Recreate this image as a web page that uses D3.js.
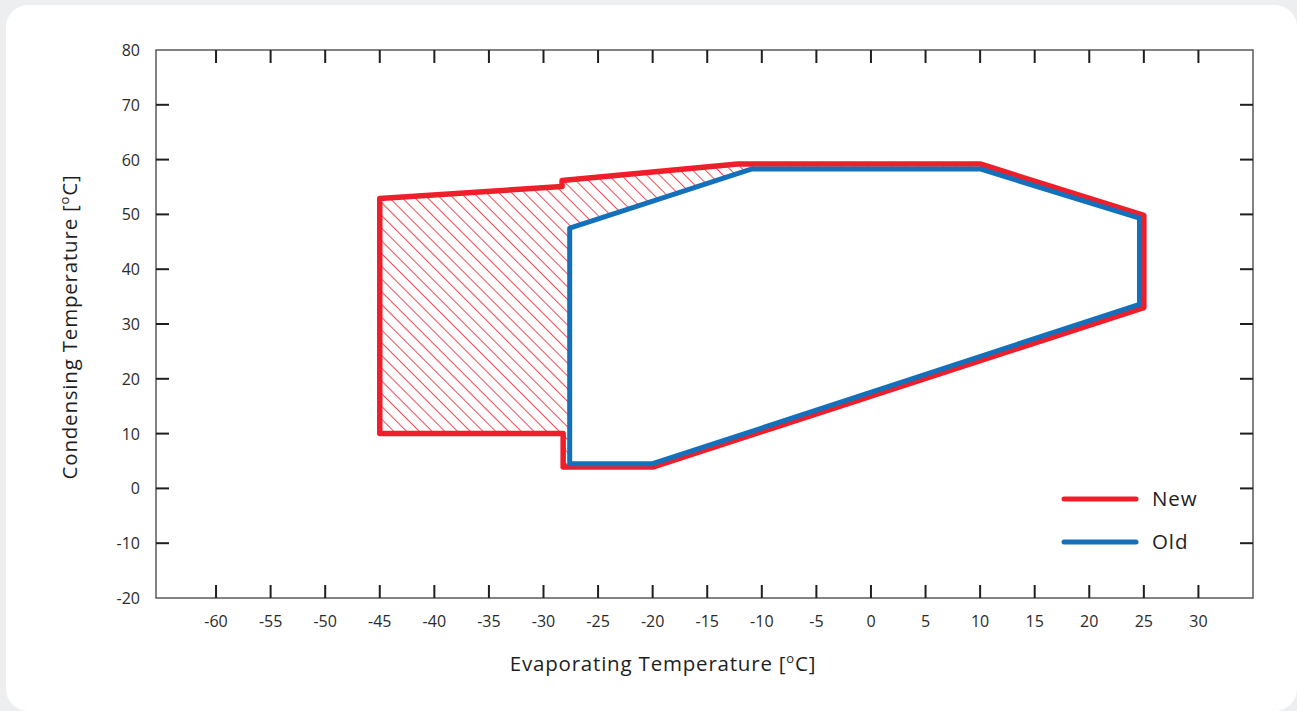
<!DOCTYPE html>
<html>
<head>
  <meta charset="utf-8">
  <title>Operating Envelope</title>
  <script src="https://d3js.org/d3.v7.min.js"></script>
  <style>
    body { margin: 0; background: #eceeef; }
    svg { display: block; }
    .tick-label { font-family: "Open Sans", "DejaVu Sans", sans-serif; font-size: 16px; fill: #2b2b2b; }
    .axis-title { font-family: "Open Sans", "DejaVu Sans", sans-serif; font-size: 20.5px; letter-spacing: 0.8px; fill: #1e1e1e; }
    .legend-label { font-family: "Open Sans", "DejaVu Sans", sans-serif; font-size: 20.5px; letter-spacing: 0.9px; fill: #1e1e1e; }
  </style>
</head>
<body>
  <div id="chart"></div>
  <script>
    // Ticks
    var xTicks = [-60, -55, -50, -45, -40, -35, -30, -25, -20, -15, -10, -5, 0, 5, 10, 15, 20, 25, 30];
    var yTicks = [-20, -10, 0, 10, 20, 30, 40, 50, 60, 70, 80];

    // Envelopes (evaporating, condensing)
    var newEvap = [-45, -45, -28.3, -28.3, -12.2, 10, 25, 25, -20, -28.2, -28.2];
    var newCond = [10, 52.9, 55.1, 56.2, 59.2, 59.2, 49.8, 33, 3.9, 3.9, 10];

    var oldEvap = [-27.6, -10.9, 10, 24.6, 24.6, -20, -27.6];
    var oldCond = [47.5, 58.3, 58.3, 49.3, 33.6, 4.5, 4.5];

    var seriesNames = ["New", "Old"];
    var seriesColors = ["#ee1f2b", "#1470bb"];

    var W = 1297, H = 711;
    var margin = { left: 156, top: 50, right: 44, bottom: 113 };

    var svg = d3.select("#chart").append("svg")
      .attr("width", W)
      .attr("height", H);

    // white card
    svg.append("rect")
      .attr("x", 6).attr("y", 5)
      .attr("width", W - 6).attr("height", H - 5)
      .attr("rx", 22)
      .attr("fill", "#ffffff");

    var x = d3.scaleLinear().domain([-65.5, 35]).range([margin.left, W - margin.right]);
    var y = d3.scaleLinear().domain([-20, 80]).range([H - margin.bottom, margin.top]);

    var defs = svg.append("defs");
    var pattern = defs.append("pattern")
      .attr("id", "hatch")
      .attr("patternUnits", "userSpaceOnUse")
      .attr("width", 9)
      .attr("height", 9)
      .attr("patternTransform", "rotate(-45)");
    pattern.append("line")
      .attr("x1", 0).attr("y1", 0)
      .attr("x2", 0).attr("y2", 9)
      .attr("stroke", seriesColors[0])
      .attr("stroke-width", 1.6);

    var line = d3.line()
      .x(function (d) { return x(d[0]); })
      .y(function (d) { return y(d[1]); })
      .curve(d3.curveLinearClosed);

    var newPts = newEvap.map(function (v, i) { return [v, newCond[i]]; });
    var oldPts = oldEvap.map(function (v, i) { return [v, oldCond[i]]; });

    // hatched area = new minus old
    svg.append("path")
      .attr("d", line(newPts))
      .attr("fill", "url(#hatch)");
    svg.append("path")
      .attr("d", line(oldPts))
      .attr("fill", "#ffffff");

    // frame
    var x0 = x.range()[0], x1 = x.range()[1], y0 = y.range()[0], y1 = y.range()[1];
    svg.append("rect")
      .attr("x", x0).attr("y", y1)
      .attr("width", x1 - x0).attr("height", y0 - y1)
      .attr("fill", "none")
      .attr("stroke", "#5a5a5a")
      .attr("stroke-width", 1.5);

    var tickLen = 13;
    var tickG = svg.append("g").attr("stroke", "#1f1f1f").attr("stroke-width", 2);

    xTicks.forEach(function (t) {
      tickG.append("line").attr("x1", x(t)).attr("x2", x(t)).attr("y1", y0).attr("y2", y0 - tickLen);
      tickG.append("line").attr("x1", x(t)).attr("x2", x(t)).attr("y1", y1).attr("y2", y1 + tickLen);
    });
    yTicks.forEach(function (t) {
      if (t === -20 || t === 80) return;
      tickG.append("line").attr("x1", x0).attr("x2", x0 + tickLen).attr("y1", y(t)).attr("y2", y(t));
      tickG.append("line").attr("x1", x1).attr("x2", x1 - tickLen).attr("y1", y(t)).attr("y2", y(t));
    });

    svg.selectAll(".xlab")
      .data(xTicks)
      .join("text")
      .attr("class", "tick-label xlab")
      .attr("x", function (d) { return x(d); })
      .attr("y", y0 + 29)
      .attr("text-anchor", "middle")
      .text(function (d) { return d; });

    svg.selectAll(".ylab")
      .data(yTicks)
      .join("text")
      .attr("class", "tick-label ylab")
      .attr("x", x0 - 16)
      .attr("y", function (d) { return y(d) + 6; })
      .attr("text-anchor", "end")
      .text(function (d) { return d; });

    // axis titles
    var xt = svg.append("text")
      .attr("class", "axis-title")
      .attr("x", 663)
      .attr("y", 671)
      .attr("text-anchor", "middle");
    xt.append("tspan").text("Evaporating Temperature [");
    xt.append("tspan").attr("font-size", "13px").attr("dy", -8).text("o");
    xt.append("tspan").attr("dy", 8).text("C]");

    var yt = svg.append("text")
      .attr("class", "axis-title")
      .attr("transform", "translate(77,327) rotate(-90)")
      .attr("text-anchor", "middle");
    yt.append("tspan").text("Condensing Temperature [");
    yt.append("tspan").attr("font-size", "13px").attr("dy", -8).text("o");
    yt.append("tspan").attr("dy", 8).text("C]");

    // outlines
    svg.append("path")
      .attr("d", line(newPts))
      .attr("fill", "none")
      .attr("stroke", seriesColors[0])
      .attr("stroke-width", 5.5)
      .attr("stroke-linejoin", "round");
    svg.append("path")
      .attr("d", line(oldPts))
      .attr("fill", "none")
      .attr("stroke", seriesColors[1])
      .attr("stroke-width", 5)
      .attr("stroke-linejoin", "round");

    // legend
    var legend = svg.append("g").attr("transform", "translate(1064,499)");
    seriesNames.forEach(function (name, i) {
      legend.append("line")
        .attr("x1", 0).attr("x2", 72)
        .attr("y1", i * 43).attr("y2", i * 43)
        .attr("stroke", seriesColors[i])
        .attr("stroke-width", 5)
        .attr("stroke-linecap", "round");
      legend.append("text")
        .attr("class", "legend-label")
        .attr("x", 88)
        .attr("y", i * 43 + 7)
        .text(name);
    });
  </script>
</body>
</html>
